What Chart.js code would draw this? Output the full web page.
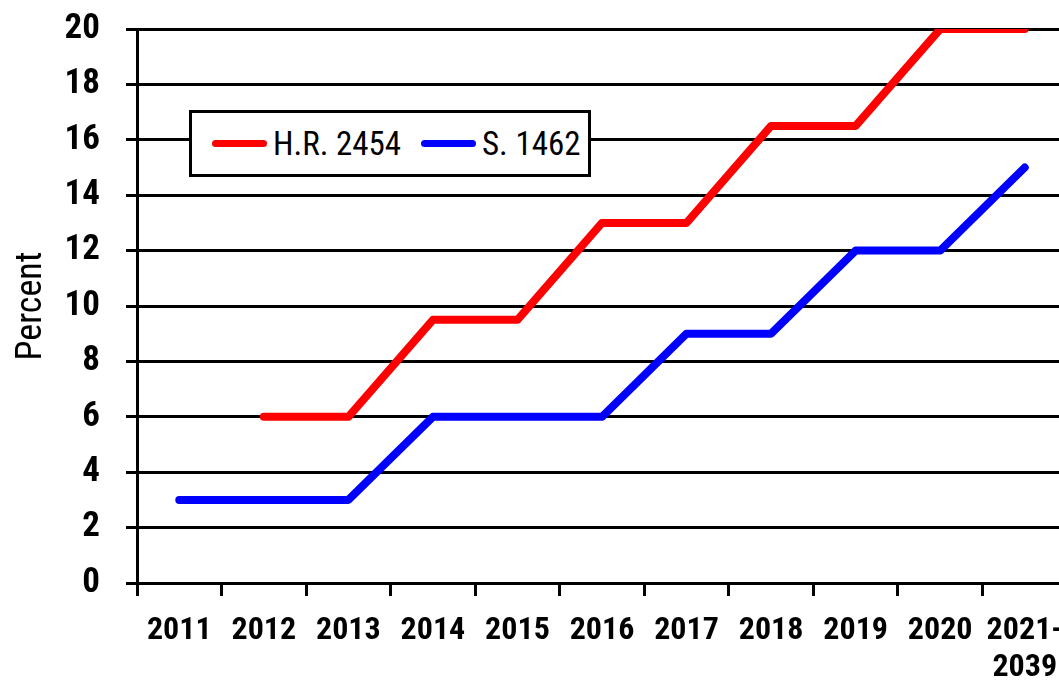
<!DOCTYPE html>
<html>
<head>
<meta charset="utf-8">
<script src="https://cdn.jsdelivr.net/npm/chart.js@4.4.1/dist/chart.umd.min.js"></script>
<style>
  html, body { margin: 0; padding: 0; background: #fff; overflow: hidden; }
  #wrap { position: relative; width: 1067px; height: 682px; }
  #legend {
    position: absolute; left: 189px; top: 110px; width: 396px; height: 61px;
    border: 3px solid #000; background: #fff; box-sizing: content-box;
    font-family: 'Roboto Condensed', 'Liberation Sans', sans-serif;
    font-size: 33px; color: #000; white-space: nowrap;
  }
  .item { position: absolute; top: 0; height: 61px; display: flex; align-items: center; }
  .swatch { width: 55px; height: 7px; border-radius: 4px; margin-right: 6px; flex: none; }
</style>
</head>
<body>
<div id="wrap">
  <canvas id="policyChart" width="1067" height="682"></canvas>
  <div id="legend"></div>
</div>
<script>
const years = ['2011', '2012', '2013', '2014', '2015', '2016', '2017', '2018', '2019', '2020', ['2021-', '2039']];
const hr2454 = [null, 6, 6, 9.5, 9.5, 13, 13, 16.5, 16.5, 20, 20];
const s1462 = [3, 3, 3, 6, 6, 6, 9, 9, 12, 12, 15];
const seriesNames = ['H.R. 2454', 'S. 1462'];
const seriesColors = ['#ff0000', '#0000ff'];
const legendX = [20, 229];

const narrow = "'Roboto Condensed', 'Liberation Sans', sans-serif";

// legend box drawn in html, built from the series
const legend = document.getElementById('legend');
seriesNames.forEach((name, i) => {
  const item = document.createElement('div');
  item.className = 'item';
  item.style.left = legendX[i] + 'px';
  item.innerHTML = '<div class="swatch" style="background:' + seriesColors[i] + '"></div><span>' + name + '</span>';
  legend.appendChild(item);
});

const ctx = document.getElementById('policyChart').getContext('2d');
new Chart(ctx, {
  type: 'line',
  data: {
    labels: years,
    datasets: [
      {
        label: seriesNames[0],
        data: hr2454,
        borderColor: seriesColors[0],
        borderWidth: 8,
        borderCapStyle: 'round',
        borderJoinStyle: 'round',
        pointRadius: 0,
        tension: 0,
        fill: false
      },
      {
        label: seriesNames[1],
        data: s1462,
        borderColor: seriesColors[1],
        borderWidth: 8,
        borderCapStyle: 'round',
        borderJoinStyle: 'round',
        pointRadius: 0,
        tension: 0,
        fill: false
      }
    ]
  },
  options: {
    responsive: false,
    animation: false,
    layout: { padding: { top: 29, left: 0, right: 0, bottom: 0 } },
    plugins: {
      legend: { display: false },
      tooltip: { enabled: false }
    },
    scales: {
      x: {
        offset: true,
        grid: {
          offset: true,
          drawOnChartArea: false,
          drawTicks: true,
          tickLength: 13,
          color: '#000',
          lineWidth: 3
        },
        border: { display: true, color: '#000', width: 3 },
        ticks: {
          color: '#000',
          autoSkip: false,
          maxRotation: 0,
          padding: 17,
          font: { family: narrow, size: 32, weight: 'bold', lineHeight: 1.15 }
        },
        afterFit: (scale) => {
          scale.height = 99;
          scale.paddingLeft = 0;
          scale.paddingRight = 0;
        }
      },
      y: {
        min: 0,
        max: 20,
        ticks: {
          stepSize: 2,
          color: '#000',
          padding: 26,
          font: { family: narrow, size: 35, weight: 'bold' }
        },
        grid: {
          color: '#000',
          lineWidth: 3,
          drawTicks: true,
          tickLength: 11
        },
        border: { display: true, color: '#000', width: 3 },
        title: {
          display: true,
          text: 'Percent',
          color: '#000',
          padding: { top: 10, bottom: 0 },
          font: { family: narrow, size: 36, weight: 'normal', lineHeight: 1.2 }
        },
        afterFit: (scale) => {
          scale.width = 137;
          scale.paddingTop = 0;
          scale.paddingBottom = 0;
        }
      }
    }
  }
});
</script>
</body>
</html>
